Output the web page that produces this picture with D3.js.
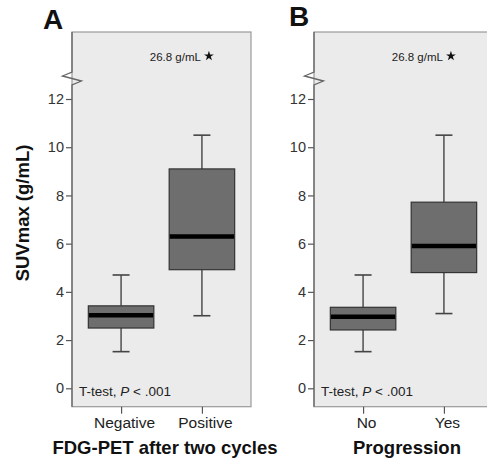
<!DOCTYPE html>
<html>
<head>
<meta charset="utf-8">
<script src="https://cdn.jsdelivr.net/npm/d3@7"></script>
<style>
  html, body { margin: 0; padding: 0; background: #fff; }
  svg { display: block; font-family: "Liberation Sans", Arial, sans-serif; }
</style>
</head>
<body>
<svg id="chart" width="487" height="460"></svg>
<script>
// ---- data ----
const panelLabels = ["A", "B"];
const categoriesA = ["Negative", "Positive"];
const categoriesB = ["No", "Yes"];
const axisTitlesX = ["FDG-PET after two cycles", "Progression"];
const yTicks = [0, 2, 4, 6, 8, 10, 12];
const yTitle = "SUVmax (g/mL)";
// box statistics per category: [whiskerLow, q1, median, q3, whiskerHigh]
const statsA = [
  [1.52, 2.50, 3.03, 3.42, 4.70],
  [3.01, 4.92, 6.30, 9.10, 10.50]
];
const statsB = [
  [1.52, 2.42, 2.97, 3.36, 4.70],
  [3.10, 4.80, 5.90, 7.72, 10.50]
];
const outlierValue = 26.8;   // shown above axis break, belongs to 2nd category
const outlierLabel = "26.8 g/mL";
const testLabel = ["T-test, ", "P", " < .001"];

// ---- layout ----
const svg = d3.select("#chart");
const plotTop = 32, plotBottom = 406.7, panelW = 179;
const panelLefts = [72, 314];
const y = d3.scaleLinear().domain([0, 12]).range([388.3, 99]);

const panels = [
  { label: panelLabels[0], cats: categoriesA, stats: statsA, title: axisTitlesX[0], labelX: 43, labelY: 28.5 },
  { label: panelLabels[1], cats: categoriesB, stats: statsB, title: axisTitlesX[1], labelX: 289, labelY: 25.5 }
];

panels.forEach((p, i) => {
  const left = panelLefts[i];
  const g = svg.append("g");
  const x = d3.scalePoint().domain(p.cats).range([left, left + panelW]).padding(0.607);
  const step = x.step();
  const boxW = step * 0.81;
  const capW = 17;

  // panel background
  g.append("rect")
    .attr("x", left).attr("y", plotTop)
    .attr("width", panelW).attr("height", plotBottom - plotTop)
    .attr("fill", "#ebebeb").attr("stroke", "#9a9a9a").attr("stroke-width", 1.2);

  // y axis ticks & labels
  const yAxis = d3.axisLeft(y).tickValues(yTicks).tickSize(6).tickPadding(2).tickFormat(d3.format("d"));
  const ya = g.append("g").attr("transform", `translate(${left},0)`).call(yAxis);
  ya.select(".domain").remove();
  ya.selectAll(".tick line").attr("stroke", "#555").attr("stroke-width", 1.2);
  ya.selectAll(".tick text").attr("fill", "#333").style("font-size", "14.5px")
    .style("font-family", "'Liberation Sans', Arial, sans-serif");

  // axis line with break
  const brk = [[left, plotTop], [left, 72], [left - 9.5, 76], [left + 9.5, 81], [left, 85], [left, plotBottom]];
  g.append("path").attr("d", d3.line()(brk))
    .attr("fill", "none").attr("stroke", "#666").attr("stroke-width", 1.3);

  // x axis ticks & labels
  const xAxis = d3.axisBottom(x).tickSize(7).tickPadding(3);
  const xa = g.append("g").attr("transform", `translate(0,${plotBottom})`).call(xAxis);
  xa.select(".domain").remove();
  xa.selectAll(".tick line").attr("stroke", "#555").attr("stroke-width", 1.2);
  xa.selectAll(".tick text").attr("fill", "#222").style("font-size", "15.5px")
    .style("font-family", "'Liberation Sans', Arial, sans-serif")
    .attr("dx", 3);

  // boxes
  p.cats.forEach((c, j) => {
    const [lo, q1, med, q3, hi] = p.stats[j];
    const cx = x(c);
    // whiskers
    g.append("line").attr("x1", cx).attr("x2", cx).attr("y1", y(hi)).attr("y2", y(q3))
      .attr("stroke", "#444").attr("stroke-width", 1.4);
    g.append("line").attr("x1", cx).attr("x2", cx).attr("y1", y(q1)).attr("y2", y(lo))
      .attr("stroke", "#444").attr("stroke-width", 1.4);
    [hi, lo].forEach(v => {
      g.append("line").attr("x1", cx - capW / 2).attr("x2", cx + capW / 2).attr("y1", y(v)).attr("y2", y(v))
        .attr("stroke", "#444").attr("stroke-width", 1.6);
    });
    // box
    g.append("rect").attr("x", cx - boxW / 2).attr("y", y(q3))
      .attr("width", boxW).attr("height", y(q1) - y(q3))
      .attr("fill", "#6e6e6e").attr("stroke", "#333").attr("stroke-width", 1.2);
    // median
    g.append("line").attr("x1", cx - boxW / 2 + 0.6).attr("x2", cx + boxW / 2 - 0.6)
      .attr("y1", y(med)).attr("y2", y(med))
      .attr("stroke", "#000").attr("stroke-width", 4.5);
  });

  // outlier above break
  const ox = x(p.cats[1]);
  g.append("path").attr("d", d3.symbol().type(d3.symbolStar).size(30)())
    .attr("transform", `translate(${ox + 7},56)`).attr("fill", "#111");
  g.append("text").attr("x", ox - 1).attr("y", 60.5).attr("text-anchor", "end")
    .style("font-size", "11.5px").attr("fill", "#222").text(outlierLabel)
    .attr("data-value", outlierValue);

  // test label
  const t = g.append("text").attr("x", left + 7).attr("y", 395.5)
    .style("font-size", "13.5px").attr("fill", "#222");
  t.append("tspan").text(testLabel[0]);
  t.append("tspan").style("font-style", "italic").text(testLabel[1]);
  t.append("tspan").text(testLabel[2]);

  // x axis title
  g.append("text").attr("x", left + panelW / 2 + 3.5).attr("y", 454)
    .attr("text-anchor", "middle").style("font-size", "18.5px").style("font-weight", "bold")
    .attr("fill", "#111").text(p.title);

  // panel label
  svg.append("text").attr("x", p.labelX).attr("y", p.labelY)
    .style("font-size", "28px").style("font-weight", "bold").attr("fill", "#111").text(p.label);
});

// y axis title
svg.append("text")
  .attr("transform", "translate(29,213) rotate(-90)")
  .attr("text-anchor", "middle").style("font-size", "18.5px").style("font-weight", "bold")
  .attr("fill", "#111").text(yTitle);
</script>
</body>
</html>
